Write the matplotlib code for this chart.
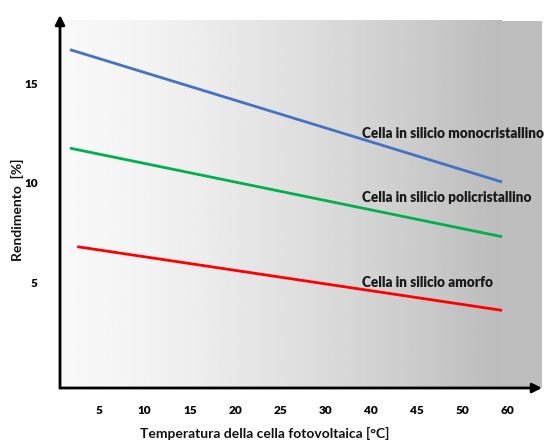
import numpy as np
import matplotlib.pyplot as plt

# Temperature tick labels (evenly spaced slots on the axis)
tick_labels = ['5', '10', '15', '20', '25', '30', '40', '45', '50', '60']
y_ticks = [5, 10, 15]

# Efficiency lines: start / end in tick-slot units, values in %
mono_x = [-0.64, 8.88]
mono_y = [16.7, 10.05]
poly_x = [-0.64, 8.88]
poly_y = [11.75, 7.3]
amorfo_x = [-0.48, 8.88]
amorfo_y = [6.8, 3.6]

series_names = ['Cella in silicio monocristallino',
                'Cella in silicio policristallino',
                'Cella in silicio amorfo']
label_x = [5.79, 5.79, 5.79]
label_y = [12.5, 9.25, 5.0]
colors = ['#4472c4', '#00b050', '#ff0000']

W, H = 544, 444
fig = plt.figure(figsize=(W / 100, H / 100), dpi=100)
fig.patch.set_facecolor('white')

left_px, right_px, top_px, bottom_px = 60, 542, 15, 388
ax = fig.add_axes([left_px / W, 1 - bottom_px / H,
                   (right_px - left_px) / W, (bottom_px - top_px) / H])

x_lo, x_hi = -0.86, 9.76
y_lo, y_hi = -0.3, 18.44
ax.set_xlim(x_lo, x_hi)
ax.set_ylim(y_lo, y_hi)

# Shaded backdrop: horizontal white-to-grey gradient, flat grey strip at right
grad_right = 8.876
grad_top = 18.14
t = np.linspace(0, 1, 256)
shade = 0.975 - 0.24 * t ** 1.4
img = np.tile(shade, (2, 1))
ax.imshow(img, cmap='gray', vmin=0, vmax=1, aspect='auto',
          extent=[x_lo, grad_right, y_lo, grad_top], origin='lower',
          zorder=0, interpolation='bilinear')
ax.fill_between([grad_right, x_hi], y_lo, grad_top, color='#bebebe',
                zorder=0, lw=0)

for xs, ys, c in zip([mono_x, poly_x, amorfo_x],
                     [mono_y, poly_y, amorfo_y], colors):
    ax.plot(xs, ys, color=c, lw=2.0, solid_capstyle='butt', zorder=3)

for name, lx, ly in zip(series_names, label_x, label_y):
    ax.text(lx, ly, name, fontsize=9.8, fontweight='heavy', family='Lato',
            color='#1a1a1a', va='center', ha='left', zorder=4, clip_on=False)

# Axes drawn as arrows
for s in ax.spines.values():
    s.set_visible(False)
ax.annotate('', xy=(0, 1), xytext=(0, 0), xycoords='axes fraction',
            arrowprops=dict(arrowstyle='-|>', lw=2, color='black',
                            mutation_scale=14, shrinkA=0, shrinkB=0),
            zorder=5)
ax.annotate('', xy=(1, 0), xytext=(0, 0), xycoords='axes fraction',
            arrowprops=dict(arrowstyle='-|>', lw=2, color='black',
                            mutation_scale=14, shrinkA=0, shrinkB=0),
            zorder=5)

ax.set_xticks(range(len(tick_labels)))
ax.set_xticklabels(tick_labels, fontsize=8.5, fontweight='heavy', family='Lato')
ax.set_yticks(y_ticks)
ax.set_yticklabels([str(v) for v in y_ticks], fontsize=8.5, fontweight='heavy',
                   family='Lato')
ax.tick_params(length=0, pad=12)
ax.tick_params(axis='y', pad=16)

fig.text(265 / W, 1 - 433 / H, 'Temperatura della cella fotovoltaica [°C]',
         fontsize=10, fontweight='bold', family='Lato', ha='center',
         va='center', color='#111111')
fig.text(17 / W, 1 - 210 / H, 'Rendimento  [%]', rotation=90,
         fontsize=10, fontweight='bold', family='Lato', ha='center',
         va='center', color='#111111')

fig.savefig('out.png', dpi=100, facecolor='white')
